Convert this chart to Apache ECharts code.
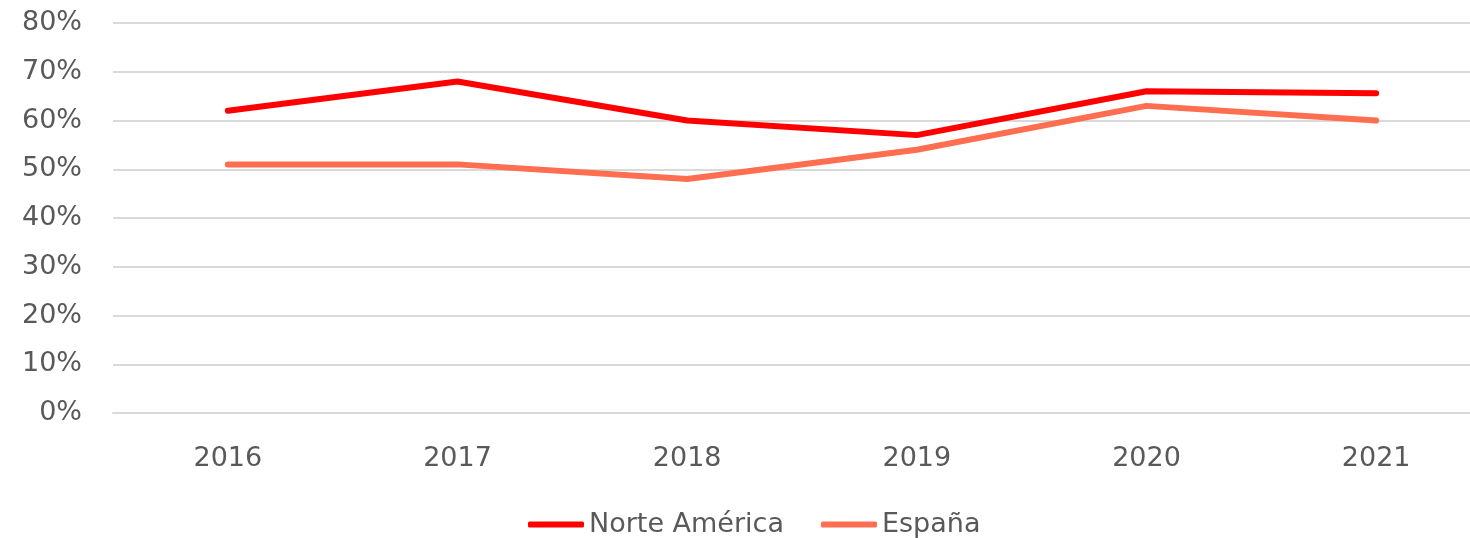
<!DOCTYPE html>
<html>
<head>
<meta charset="utf-8">
<script src="https://cdn.jsdelivr.net/npm/echarts@6/dist/echarts.min.js"></script>
<style>
html,body{margin:0;padding:0;background:#fff;overflow:hidden;width:1470px;height:538px;}
#c{width:1500px;height:538px;}
</style>
</head>
<body>
<div id="c"></div>
<script>
const categories = ['2016', '2017', '2018', '2019', '2020', '2021'];
const norteAmerica = [0.62, 0.68, 0.60, 0.57, 0.66, 0.656];
const espana = [0.51, 0.51, 0.48, 0.54, 0.63, 0.60];
const seriesNames = ['Norte América', 'España'];

const chart = echarts.init(document.getElementById('c'), null, {renderer: 'canvas'});
const font = '"DejaVu Sans", sans-serif';
chart.setOption({
  animation: false,
  backgroundColor: '#fff',
  grid: {left: 113, right: 9, top: 23, bottom: 125, containLabel: false},
  xAxis: {
    type: 'category',
    data: categories,
    boundaryGap: true,
    axisLine: {show: true, lineStyle: {color: '#d9d9d9', width: 2}},
    axisTick: {show: false},
    axisLabel: {color: '#595959', fontSize: 27, fontFamily: font, margin: 32}
  },
  yAxis: {
    type: 'value',
    min: 0, max: 0.8, interval: 0.1,
    axisLine: {show: false},
    axisTick: {show: false},
    splitLine: {lineStyle: {color: '#d9d9d9', width: 2}},
    axisLabel: {
      color: '#595959', fontSize: 27, fontFamily: font, margin: 31,
      formatter: v => Math.round(v * 100) + '%'
    }
  },
  legend: {
    left: 523, top: 506,
    itemWidth: 56, itemHeight: 6, itemGap: 37,
    icon: 'roundRect',
    textStyle: {color: '#595959', fontSize: 27, fontFamily: font},
    data: seriesNames
  },
  series: [
    {name: seriesNames[0], type: 'line', data: norteAmerica, symbol: 'none',
     itemStyle: {color: '#ff0000'},
     lineStyle: {color: '#ff0000', width: 6, cap: 'round', join: 'round'}},
    {name: seriesNames[1], type: 'line', data: espana, symbol: 'none',
     itemStyle: {color: '#ff6e50'},
     lineStyle: {color: '#ff6e50', width: 6, cap: 'round', join: 'round'}}
  ]
});
</script>
</body>
</html>
